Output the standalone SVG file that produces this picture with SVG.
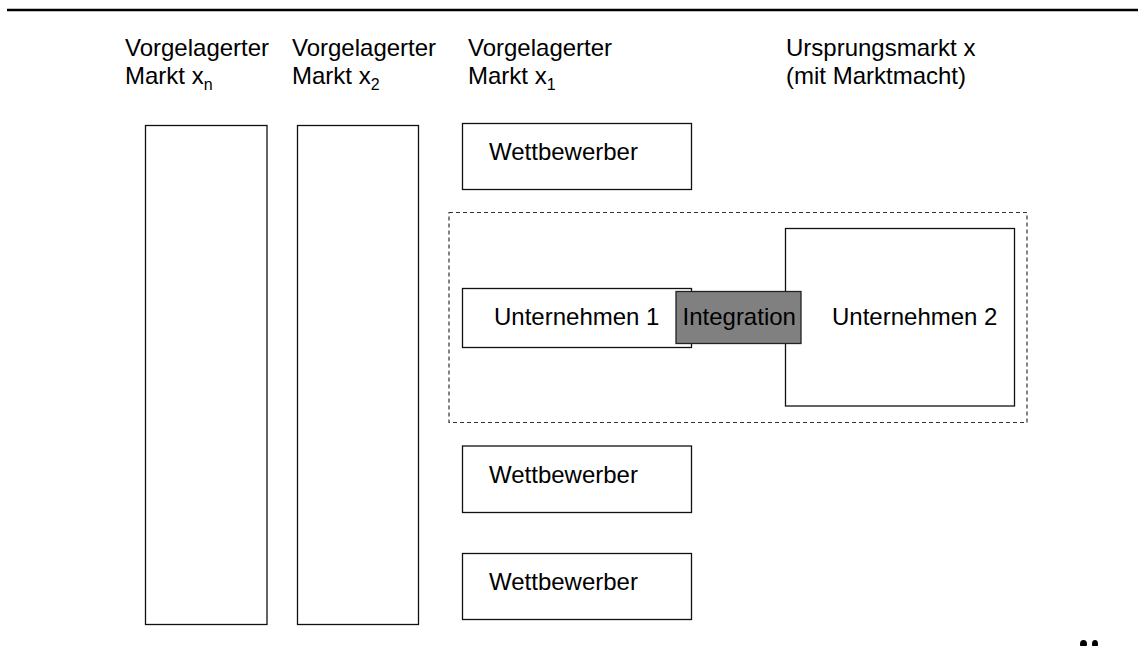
<svg xmlns="http://www.w3.org/2000/svg" width="1138" height="646" viewBox="0 0 1138 646">
<style>
text{font-family:"Liberation Sans",Arial,sans-serif;font-size:24px;fill:#000}
.sub{font-size:16px}
.box{fill:#fff;stroke:#111;stroke-width:1.3}
.dash{fill:none;stroke:#333;stroke-width:1.2;stroke-dasharray:4 3}
.integ{fill:#808080;stroke:#222;stroke-width:1.3}
</style>
<rect width="1138" height="646" fill="#fff"/>
<line x1="7" y1="10" x2="1138" y2="10" stroke="#000" stroke-width="2.4"/>
<g id="headers">
<text x="125" y="55.5">Vorgelagerter</text>
<text x="125" y="83.5">Markt x<tspan class="sub" dy="6">n</tspan></text>
<text x="292" y="55.5">Vorgelagerter</text>
<text x="292" y="83.5">Markt x<tspan class="sub" dy="6">2</tspan></text>
<text x="468" y="55.5">Vorgelagerter</text>
<text x="468" y="83.5">Markt x<tspan class="sub" dy="6">1</tspan></text>
<text x="786" y="55.5">Ursprungsmarkt x</text>
<text x="786" y="83.5">(mit Marktmacht)</text>
</g>
<g id="markt-xn"><rect class="box" x="145.5" y="125.5" width="121.5" height="499"/></g>
<g id="markt-x2"><rect class="box" x="297.5" y="125.5" width="121" height="499"/></g>
<g id="integration-region"><rect class="dash" x="449" y="212.5" width="578" height="210"/></g>
<g id="wettbewerber-1"><rect class="box" x="462.5" y="123.5" width="229" height="66"/><text x="489" y="160">Wettbewerber</text></g>
<g id="unternehmen-1"><rect class="box" x="462.5" y="288.5" width="229" height="59"/><text x="494" y="325">Unternehmen 1</text></g>
<g id="unternehmen-2"><rect class="box" x="785.5" y="228.5" width="229" height="177.5"/><text x="832" y="325">Unternehmen 2</text></g>
<g id="integration"><rect class="integ" x="676" y="291.5" width="125" height="52"/><text x="682.5" y="325">Integration</text></g>
<g id="wettbewerber-2"><rect class="box" x="462.5" y="446" width="229" height="66.5"/><text x="489" y="483">Wettbewerber</text></g>
<g id="wettbewerber-3"><rect class="box" x="462.5" y="553.5" width="229" height="66"/><text x="489" y="590">Wettbewerber</text></g>
<g id="connectors"></g>
<g id="corner-marks" fill="#000">
<ellipse cx="1083.5" cy="644" rx="3.5" ry="4"/>
<ellipse cx="1095" cy="644" rx="3" ry="4"/>
</g>
</svg>
